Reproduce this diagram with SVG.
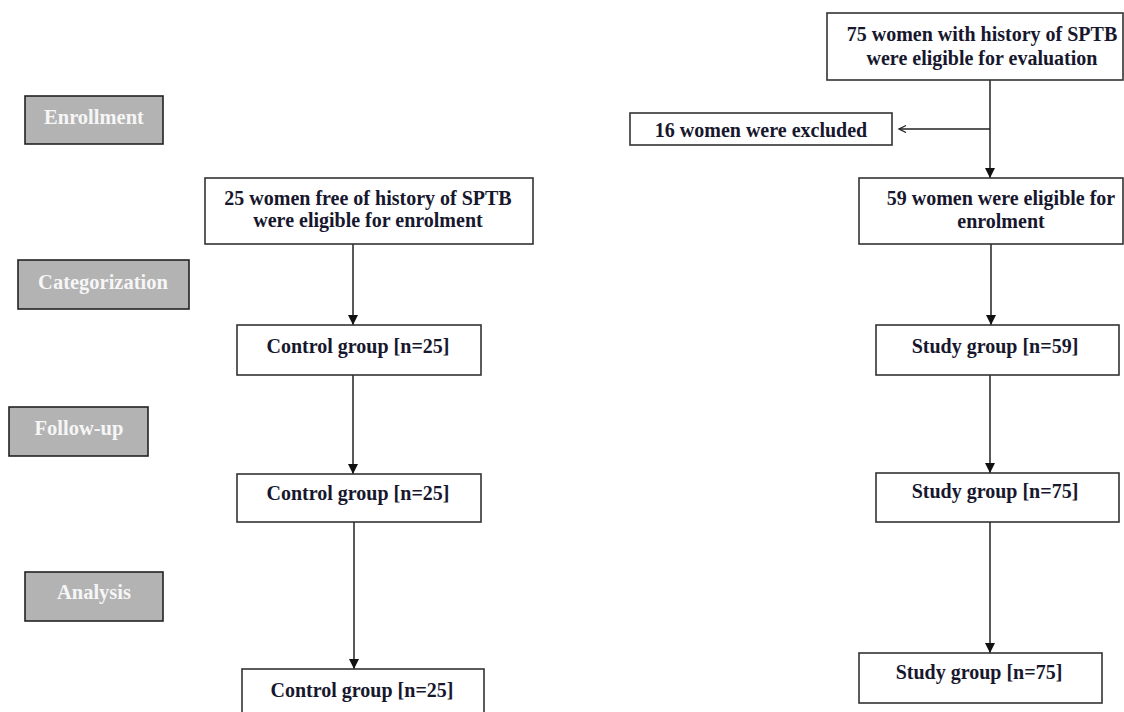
<svg xmlns="http://www.w3.org/2000/svg" width="1124" height="712" viewBox="0 0 1124 712">
<defs>
<style>
.stage rect{fill:#b3b3b3;stroke:#222;stroke-width:1.6}
.stage text{font-family:"Liberation Serif","Times New Roman",serif;font-weight:bold;font-size:20.5px;fill:#f6f6f6;text-anchor:middle}
.box rect{fill:#fff;stroke:#333;stroke-width:1.6}
.box text{font-family:"Liberation Serif","Times New Roman",serif;font-weight:bold;font-size:20px;fill:#17172e;text-anchor:middle}
.conn line{stroke:#222;stroke-width:1.5;fill:none}
</style>
<marker id="arr" markerUnits="userSpaceOnUse" markerWidth="11" markerHeight="11" refX="10" refY="5" orient="auto">
<path d="M0,0 L10,5 L0,10 z" fill="#111"/>
</marker>
<marker id="open" markerUnits="userSpaceOnUse" markerWidth="10" markerHeight="10" refX="8" refY="4" orient="auto">
<path d="M1,0.5 L8,4 L1,7.5" fill="none" stroke="#222" stroke-width="1.3"/>
</marker>
</defs>
<rect width="1124" height="712" fill="#fff"/>

<g id="stage-enrollment" class="stage"><rect x="25" y="96" width="138" height="48"/><text x="94" y="124">Enrollment</text></g>
<g id="stage-categorization" class="stage"><rect x="18" y="260" width="171" height="49"/><text x="103" y="289">Categorization</text></g>
<g id="stage-followup" class="stage"><rect x="9" y="407" width="139" height="49"/><text x="79" y="435">Follow-up</text></g>
<g id="stage-analysis" class="stage"><rect x="25" y="572" width="138" height="49"/><text x="94" y="599">Analysis</text></g>

<g id="connectors" class="conn">
<line x1="353" y1="244" x2="353" y2="325" marker-end="url(#arr)"/>
<line x1="353" y1="375" x2="353" y2="474" marker-end="url(#arr)"/>
<line x1="354" y1="522" x2="354" y2="669" marker-end="url(#arr)"/>
<line x1="990" y1="80" x2="990" y2="178" marker-end="url(#arr)"/>
<line x1="990" y1="129" x2="899" y2="129" marker-end="url(#open)"/>
<line x1="991" y1="244" x2="991" y2="325" marker-end="url(#arr)"/>
<line x1="990" y1="375" x2="990" y2="473" marker-end="url(#arr)"/>
<line x1="990" y1="522" x2="990" y2="653" marker-end="url(#arr)"/>
</g>

<g id="control-eligible" class="box"><rect x="205" y="178" width="328" height="66"/><text x="368" y="205">25 women free of history of SPTB</text><text x="368" y="227">were eligible for enrolment</text></g>
<g id="control-cat" class="box"><rect x="237" y="325" width="244" height="50"/><text x="358" y="353">Control group [n=25]</text></g>
<g id="control-follow" class="box"><rect x="237" y="474" width="244" height="48"/><text x="358" y="500">Control group [n=25]</text></g>
<g id="control-analysis" class="box"><rect x="242" y="669" width="242" height="52"/><text x="362" y="697">Control group [n=25]</text></g>

<g id="study-evaluated" class="box"><rect x="827" y="13" width="296" height="67"/><text x="982" y="41">75 women with history of SPTB</text><text x="982" y="65">were eligible for evaluation</text></g>
<g id="excluded" class="box"><rect x="630" y="113" width="262" height="32"/><text x="761" y="137">16 women were excluded</text></g>
<g id="study-eligible" class="box"><rect x="859" y="178" width="264" height="66"/><text x="1001" y="205">59 women were eligible for</text><text x="1001" y="228">enrolment</text></g>
<g id="study-cat" class="box"><rect x="876" y="325" width="243" height="50"/><text x="995" y="353">Study group [n=59]</text></g>
<g id="study-follow" class="box"><rect x="876" y="473" width="243" height="49"/><text x="995" y="498">Study group [n=75]</text></g>
<g id="study-analysis" class="box"><rect x="859" y="653" width="243" height="50"/><text x="979" y="679">Study group [n=75]</text></g>
</svg>
